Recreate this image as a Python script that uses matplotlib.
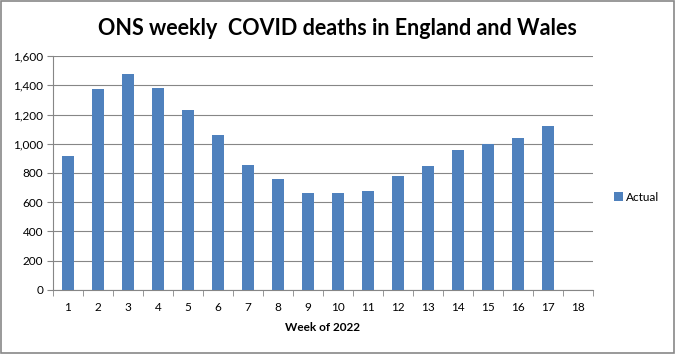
import matplotlib
matplotlib.use('Agg')
import matplotlib.pyplot as plt
from matplotlib.patches import Rectangle
import numpy as np

weeks = ['1', '2', '3', '4', '5', '6', '7', '8', '9', '10', '11', '12', '13', '14', '15', '16', '17', '18']
deaths = [918, 1376, 1479, 1384, 1232, 1061, 856, 762, 664, 664, 678, 781, 849, 958, 999, 1041, 1123, 0]

plt.rcParams['font.family'] = ['Lato', 'DejaVu Sans']

fig = plt.figure(figsize=(6.75, 3.54), dpi=100)
fig.patches.append(Rectangle((0.001, 0.002), 0.997, 0.995, transform=fig.transFigure,
                             fill=False, edgecolor='#888888', linewidth=1.2))
ax = fig.add_axes([0.0785, 0.1808, 0.8, 0.661])

x = np.arange(len(weeks))
ax.bar(x, deaths, width=0.4, color='#4F81BD', label='Actual', zorder=3)

ax.set_xlim(-0.5, len(weeks) - 0.5)
ax.set_ylim(0, 1600)
ax.set_yticks(range(0, 1601, 200))
ax.set_yticklabels([f'{v:,}' for v in range(0, 1601, 200)], fontsize=8.5)
ax.set_xticks(x)
ax.set_xticklabels(weeks, fontsize=8.5)
ax.set_xticks(np.arange(-0.5, len(weeks), 1), minor=True)
ax.tick_params(axis='x', which='major', length=0, pad=9)
ax.tick_params(axis='x', which='minor', length=4, color='#868686')
ax.tick_params(axis='y', length=4, color='#868686', pad=3)
ax.grid(axis='y', color='#868686', linewidth=0.8, zorder=0)
for s in ['top', 'right']:
    ax.spines[s].set_visible(False)
for s in ['left', 'bottom']:
    ax.spines[s].set_color('#868686')

ax.set_xlabel('Week of 2022', fontsize=8.5, fontweight='bold', labelpad=6)
fig.text(0.5, 0.92, 'ONS weekly  COVID deaths in England and Wales', ha='center', va='center',
         fontsize=15.5, fontweight='bold')
ax.legend(loc='center left', bbox_to_anchor=(1.02, 0.397), frameon=False, fontsize=8.5,
          handlelength=0.7, handleheight=0.7, handletextpad=0.3)

fig.savefig('out.png', dpi=100)
